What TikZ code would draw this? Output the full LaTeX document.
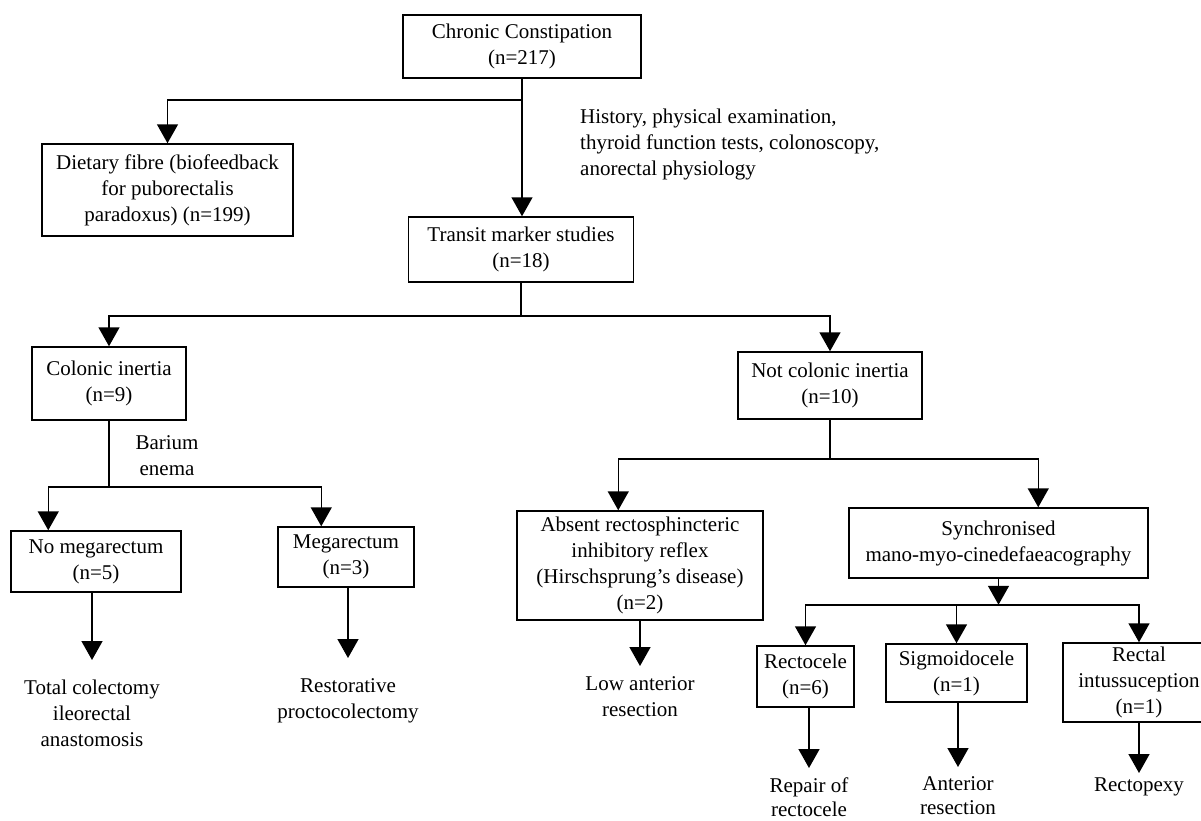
\documentclass[tikz,border=0pt]{standalone}
\usepackage{fontspec}
\setmainfont{Liberation Serif}
\usetikzlibrary{arrows.meta}
\tikzset{
  box/.style={draw,rectangle,line width=1.5pt,align=center,inner sep=0pt},
  outcome/.style={align=center,inner sep=0pt,anchor=north},
  note/.style={align=left,inner sep=0pt},
  arr/.style={-{Triangle[width=21pt,length=19pt]},line width=1.5pt},
  link/.style={line width=1.5pt}
}

\begin{document}
\begin{tikzpicture}[x=1pt,y=-1pt,font=\fontsize{21pt}{26pt}\selectfont]
\useasboundingbox (0,0) rectangle (1201,820);
\clip (0,0) rectangle (1201,820);

% first level
\node[box,minimum width=238pt,minimum height=63pt] (cc) at (522,46.5) {Chronic Constipation\\(n=217)};
\node[box,minimum width=251pt,minimum height=92pt] (diet) at (167.5,190) {Dietary fibre (biofeedback\\for puborectalis\\paradoxus) (n=199)};
\node[box,minimum width=225pt,minimum height=65pt] (transit) at (521,249.5) {Transit marker studies\\(n=18)};
\node[note,anchor=west] (hist) at (580,144.5) {History, physical examination,\\thyroid function tests, colonoscopy,\\anorectal physiology};

% second level
\node[box,minimum width=154pt,minimum height=73pt] (colonic) at (109,383.5) {Colonic inertia\\(n=9)};
\node[box,minimum width=184pt,minimum height=67pt] (notcol) at (830,385.5) {Not colonic inertia\\(n=10)};
\node[outcome,anchor=center] (barium) at (167,456) {Barium\\enema};

% third level
\node[box,minimum width=170pt,minimum height=61pt] (nomega) at (96,561.5) {No megarectum\\(n=5)};
\node[box,minimum width=136pt,minimum height=60pt] (mega) at (346,557) {Megarectum\\(n=3)};
\node[box,minimum width=246pt,minimum height=109pt] (absent) at (640,565.5) {Absent rectosphincteric\\inhibitory reflex\\(Hirschsprung's disease)\\(n=2)};
\node[box,minimum width=299pt,minimum height=70pt] (sync) at (998.5,543) {Synchronised\\mano-myo-cinedefaeacography};

% fourth level
\node[box,minimum width=97pt,minimum height=61pt] (recto) at (805.5,676.5) {Rectocele\\(n=6)};
\node[box,minimum width=141pt,minimum height=58pt] (sigmo) at (956.5,673) {Sigmoidocele\\(n=1)};
\node[box,minimum width=152pt,minimum height=79pt] (rectal) at (1139,682.5) {Rectal\\intussuception\\(n=1)};

% treatments
\node[outcome] (total) at (92,680) {Total colectomy\\ileorectal\\anastomosis};
\node[outcome] (restor) at (348,678) {Restorative\\proctocolectomy};
\node[outcome] (lowant) at (640,676) {Low anterior\\resection};
\node[outcome,font=\fontsize{21pt}{24pt}\selectfont] (repair) at (809,777) {Repair of\\rectocele};
\node[outcome,font=\fontsize{21pt}{24pt}\selectfont] (anter) at (958,776) {Anterior\\resection};
\node[outcome] (pexy) at (1139,778) {Rectopexy};

% junctions
\coordinate (j1) at ([yshift=-21pt]cc.south);
\coordinate (j2) at ([yshift=-33pt]transit.south);
\coordinate (j3) at ([yshift=-66pt]colonic.south);
\coordinate (j4) at ([yshift=-39pt]notcol.south);
\coordinate (j5) at ([yshift=-26pt]sync.south);

\draw[arr] (cc.south) -- (cc.south |- transit.north);
\draw[arr] (j1) -| (diet.north);

\draw[link] (transit.south) -- (j2);
\draw[arr] (j2) -| (colonic.north);
\draw[arr] (j2) -| (notcol.north);

\draw[link] (colonic.south) -- (j3);
\draw[arr] (j3) -| ([xshift=38pt]nomega.north west);
\draw[arr] (j3) -| ([xshift=44pt]mega.north west);

\draw[link] (notcol.south) -- (j4);
\draw[arr] (j4) -| ([xshift=102pt]absent.north west);
\draw[arr] (j4) -| ([xshift=190pt]sync.north west);

\draw[arr] (sync.south) -- (j5);
\draw[arr] (j5) -| (recto.north);
\draw[arr] (j5) -| (sigmo.north);
\draw[arr] (j5) -| (rectal.north);

\draw[arr,shorten >=20pt] (nomega.south -| total.north) -- (total.north);
\draw[arr,shorten >=20pt] (mega.south -| restor.north) -- (restor.north);
\draw[arr,shorten >=10pt] (absent.south -| lowant.north) -- (lowant.north);
\draw[arr,shorten >=9pt] (recto.south -| repair.north) -- (repair.north);
\draw[arr,shorten >=9pt] (sigmo.south -| anter.north) -- (anter.north);
\draw[arr,shorten >=5pt] (rectal.south -| pexy.north) -- (pexy.north);

\end{tikzpicture}
\end{document}
